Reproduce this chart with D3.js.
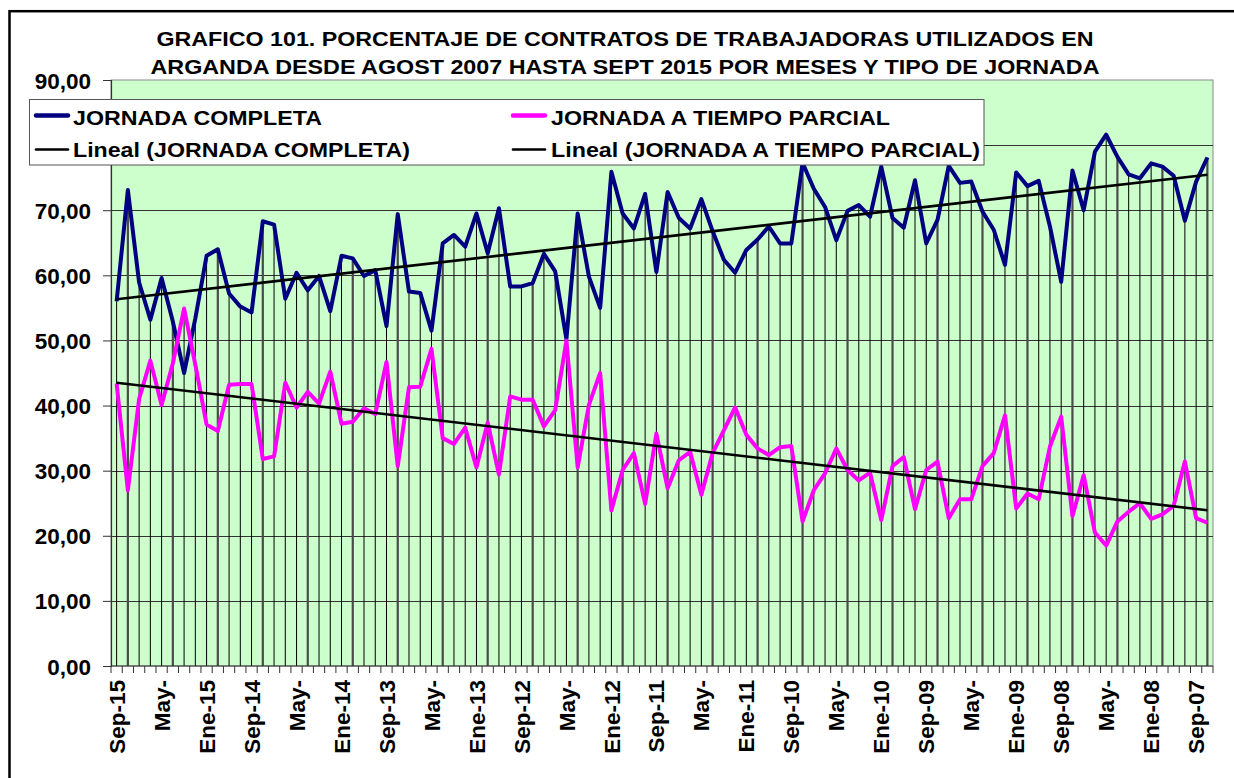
<!DOCTYPE html>
<html>
<head>
<meta charset="utf-8">
<script src="https://cdn.jsdelivr.net/npm/d3@7"></script>
<style>
  html, body { margin: 0; padding: 0; background: #ffffff; }
  svg { display: block; }
  text { font-family: Arial, "Liberation Sans", sans-serif; font-weight: bold; fill: #000; }
</style>
</head>
<body>
<svg id="chart" width="1234" height="778"></svg>
<script>
// Monthly categories, newest first (Sep 2015 back to Aug 2007)
const monthNames = ["Ene","Feb","Mar","Abr","May","Jun","Jul","Ago","Sep","Oct","Nov","Dic"];
const categories = [];
for (let y = 2015, m = 8; categories.length < 98; ) {
  categories.push(monthNames[m] + "-" + String(y).slice(2));
  m -= 1;
  if (m < 0) { m = 11; y -= 1; }
}

// Axis labels shown every fourth month
const tickLabels = ["Sep-15","May-","Ene-15","Sep-14","May-","Ene-14","Sep-13","May-","Ene-13",
  "Sep-12","May-","Ene-12","Sep-11","May-","Ene-11","Sep-10","May-","Ene-10","Sep-09","May-",
  "Ene-09","Sep-08","May-","Ene-08","Sep-07"];

const yTicks = [0, 10, 20, 30, 40, 50, 60, 70, 80, 90];

// Percentage of contracts, full-time (JORNADA COMPLETA)
const completa = [
  56.0, 73.1, 58.9, 53.2, 59.6, 52.9, 45.0, 53.4, 63.0, 64.0,
  57.2, 55.2, 54.3, 68.3, 67.8, 56.4, 60.4, 57.7, 59.9, 54.5,
  63.0, 62.6, 59.9, 60.8, 52.2, 69.4, 57.5, 57.3, 51.5, 64.9,
  66.2, 64.4, 69.5, 63.4, 70.3, 58.3, 58.3, 58.8, 63.3, 60.6,
  50.2, 69.5, 59.8, 55.0, 75.9, 69.5, 67.2, 72.5, 60.5, 72.8,
  68.8, 67.2, 71.7, 66.8, 62.4, 60.4, 63.9, 65.5, 67.5, 64.9,
  64.9, 77.3, 73.3, 70.5, 65.4, 69.9, 70.8, 69.0, 76.7, 68.8,
  67.3, 74.6, 64.9, 68.5, 76.8, 74.2, 74.4, 69.8, 67.0, 61.6,
  75.8, 73.7, 74.5, 67.5, 59.0, 76.1, 70.0, 79.0, 81.6, 78.2,
  75.5, 74.9, 77.2, 76.7, 75.3, 68.4, 74.4, 78.1
];

// Percentage of contracts, part-time (JORNADA A TIEMPO PARCIAL)
const parcial = [
  43.4, 27.0, 41.0, 46.9, 40.1, 46.5, 54.9, 46.3, 37.1, 36.1,
  43.2, 43.3, 43.3, 31.8, 32.2, 43.5, 39.7, 42.1, 40.3, 45.2,
  37.2, 37.5, 39.6, 38.7, 46.7, 30.7, 42.8, 42.9, 48.7, 35.0,
  34.1, 36.6, 30.5, 37.4, 29.4, 41.4, 40.9, 40.9, 36.8, 39.3,
  50.0, 30.5, 40.1, 45.0, 23.9, 30.1, 32.7, 24.9, 35.7, 27.3,
  31.6, 32.9, 26.3, 32.7, 36.2, 39.7, 35.5, 33.4, 32.4, 33.6,
  33.8, 22.2, 27.0, 29.6, 33.4, 30.1, 28.5, 29.7, 22.4, 30.7,
  32.1, 24.1, 30.1, 31.4, 22.7, 25.6, 25.6, 30.7, 32.7, 38.5,
  24.2, 26.5, 25.6, 33.7, 38.3, 23.0, 29.3, 20.5, 18.5, 22.2,
  23.7, 25.0, 22.6, 23.3, 24.6, 31.4, 22.7, 22.0
];

const titleLines = [
  "GRAFICO 101. PORCENTAJE DE CONTRATOS DE TRABAJADORAS UTILIZADOS EN",
  "ARGANDA DESDE AGOST 2007 HASTA SEPT 2015 POR MESES Y TIPO DE JORNADA"
];

const seriesNames = ["JORNADA COMPLETA", "JORNADA A TIEMPO PARCIAL"];
const trendNames = ["Lineal (JORNADA COMPLETA)", "Lineal (JORNADA A TIEMPO PARCIAL)"];

// ---- layout ----
const svg = d3.select("#chart");
const plot = { left: 111, right: 1213, top: 80, bottom: 666 };
const legendBox = { x: 29.5, y: 99.5, w: 954.5, h: 65.5 };

const x = d3.scaleBand().domain(categories).range([plot.left, plot.right]).padding(0);
const cx = c => x(c) + x.bandwidth() / 2;
const y = d3.scaleLinear().domain([0, 90]).range([plot.bottom, plot.top]);

// outer chart frame
svg.append("rect")
  .attr("x", 9.5).attr("y", 11.2).attr("width", 1300).attr("height", 900)
  .attr("fill", "#fff").attr("stroke", "#000").attr("stroke-width", 2.5);

// title
svg.selectAll("text.title").data(titleLines).enter().append("text")
  .attr("class", "title")
  .attr("x", 625)
  .attr("y", (d, i) => [45.6, 73.8][i])
  .attr("text-anchor", "middle")
  .attr("font-size", 21)
  .attr("textLength", (d, i) => [937, 949][i])
  .attr("lengthAdjust", "spacingAndGlyphs")
  .text(d => d);

// plot background
svg.append("rect")
  .attr("x", plot.left).attr("y", plot.top)
  .attr("width", plot.right - plot.left).attr("height", plot.bottom - plot.top)
  .attr("fill", "#CCFFCC").attr("stroke", "#8a8a8a").attr("stroke-width", 1);

// horizontal gridlines
svg.append("g").selectAll("line").data(yTicks.filter(v => v > 0 && v < 90)).enter().append("line")
  .attr("x1", plot.left).attr("x2", plot.right)
  .attr("y1", d => Math.round(y(d)) + 0.5).attr("y2", d => Math.round(y(d)) + 0.5)
  .attr("stroke", "#333").attr("stroke-width", 1);

// drop lines from the higher series down to the category axis
const rows = categories.map((c, i) => ({ c, i, a: completa[i], b: parcial[i] }));
svg.append("g").selectAll("line").data(rows).enter().append("line")
  .attr("x1", d => cx(d.c)).attr("x2", d => cx(d.c))
  .attr("y1", d => y(Math.max(d.a, d.b))).attr("y2", plot.bottom)
  .attr("stroke", d => d.i % 4 === 1 ? "#4a4a4a" : "#000")
  .attr("stroke-width", d => d.i % 4 === 1 ? 2.2 : 1);

// y axis (the label that would sit under the legend box is left out)
const hiddenByLegend = v => y(v) > legendBox.y && y(v) < legendBox.y + legendBox.h;
const yAxis = svg.append("g")
  .attr("transform", `translate(${plot.left},0)`)
  .call(d3.axisLeft(y).tickValues(yTicks).tickSize(8).tickPadding(12)
    .tickFormat(d => hiddenByLegend(d) ? "" : d.toFixed(2).replace(".", ",")));
yAxis.select(".domain").attr("stroke", "#333").attr("stroke-width", 1.2);
yAxis.selectAll(".tick line").attr("stroke", "#333");
yAxis.selectAll("text").attr("font-size", 22.5).attr("font-family", "Arial, 'Liberation Sans', sans-serif")
  .attr("font-weight", "bold").attr("fill", "#000").attr("dy", "0.36em");

// x axis: tick marks on category boundaries
const boundaries = categories.map(c => x(c)).concat([plot.right]);
svg.append("g").selectAll("line").data(boundaries).enter().append("line")
  .attr("x1", d => d).attr("x2", d => d)
  .attr("y1", plot.bottom).attr("y2", plot.bottom + 7)
  .attr("stroke", "#333").attr("stroke-width", 1);
svg.append("line")
  .attr("x1", plot.left).attr("x2", plot.right)
  .attr("y1", plot.bottom).attr("y2", plot.bottom)
  .attr("stroke", "#333").attr("stroke-width", 1.2);

// x axis labels every fourth month, rotated
const labelCats = categories.filter((c, i) => i % 4 === 0);
const xAxis = svg.append("g")
  .attr("transform", `translate(0,${plot.bottom})`)
  .call(d3.axisBottom(x).tickValues(labelCats).tickSize(0)
    .tickFormat((c) => tickLabels[categories.indexOf(c) / 4]));
xAxis.select(".domain").remove();
xAxis.selectAll("text")
  .attr("font-size", 22.5).attr("font-family", "Arial, 'Liberation Sans', sans-serif")
  .attr("font-weight", "bold").attr("fill", "#000")
  .attr("text-anchor", "end")
  .attr("transform", "rotate(-90)")
  .attr("x", -14).attr("y", 0).attr("dy", "0.36em");

// series lines
const line = d3.line().x(d => cx(d.c)).y(d => y(d.v));
const seriesData = [
  { color: "#000080", values: completa },
  { color: "#FF00FF", values: parcial }
];
seriesData.forEach(s => {
  svg.append("path")
    .datum(categories.map((c, i) => ({ c, v: s.values[i] })))
    .attr("fill", "none").attr("stroke", s.color).attr("stroke-width", 4)
    .attr("stroke-linejoin", "round").attr("d", line);
});

// linear trend lines (least squares over month index)
function trend(values) {
  const n = values.length;
  const xs = d3.range(1, n + 1);
  const mx = d3.mean(xs), my = d3.mean(values);
  let sxy = 0, sxx = 0;
  xs.forEach((xv, i) => { sxy += (xv - mx) * (values[i] - my); sxx += (xv - mx) * (xv - mx); });
  const b = sxy / sxx, a = my - b * mx;
  return xs.map(xv => a + b * xv);
}
seriesData.forEach(s => {
  const t = trend(s.values);
  const ends = [0, categories.length - 1];
  svg.append("line")
    .attr("x1", cx(categories[ends[0]])).attr("y1", y(t[ends[0]]))
    .attr("x2", cx(categories[ends[1]])).attr("y2", y(t[ends[1]]))
    .attr("stroke", "#000").attr("stroke-width", 2.6);
});

// legend
const legend = svg.append("g");
legend.append("rect")
  .attr("x", legendBox.x).attr("y", legendBox.y).attr("width", legendBox.w).attr("height", legendBox.h)
  .attr("fill", "#fff").attr("stroke", "#555").attr("stroke-width", 1);
const legendItems = [
  { sx: 36, tx: 73, ly: 115.5, ty: 125, color: "#000080", w: 4.5, label: seriesNames[0], len: 249 },
  { sx: 513, tx: 551, ly: 115.5, ty: 125, color: "#FF00FF", w: 4.5, label: seriesNames[1], len: 339 },
  { sx: 36, tx: 73, ly: 149.5, ty: 157, color: "#000", w: 2.6, label: trendNames[0], len: 337 },
  { sx: 513, tx: 551, ly: 149.5, ty: 157, color: "#000", w: 2.6, label: trendNames[1], len: 429 }
];
legendItems.forEach(d => {
  legend.append("line")
    .attr("x1", d.sx).attr("x2", d.sx + 32).attr("y1", d.ly).attr("y2", d.ly)
    .attr("stroke", d.color).attr("stroke-width", d.w).attr("stroke-linecap", "round");
  legend.append("text")
    .attr("x", d.tx).attr("y", d.ty)
    .attr("font-size", 21)
    .attr("textLength", d.len).attr("lengthAdjust", "spacingAndGlyphs")
    .text(d.label);
});
</script>
</body>
</html>
